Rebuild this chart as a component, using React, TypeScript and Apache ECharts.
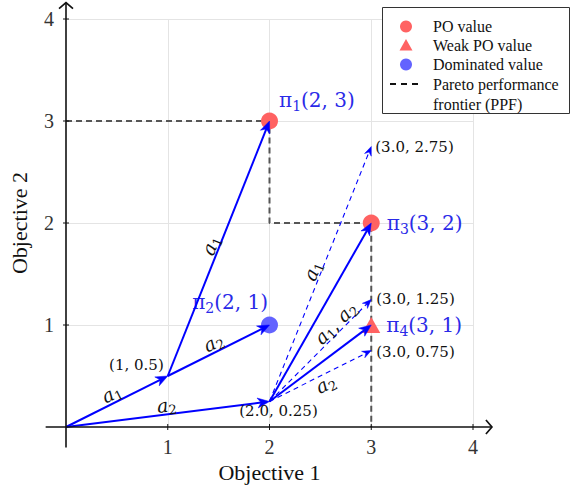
import React, { useEffect, useRef } from 'react';
import * as echarts from 'echarts';

// ---------------- data ----------------
const xTicks = [1, 2, 3, 4];
const yTicks = [1, 2, 3, 4];

const poValues = [[2, 3], [3, 2]];
const poSubs = ['1', '3'];
const poCoords = ['(2, 3)', '(3, 2)'];

const weakPoValues = [[3, 1]];
const weakPoSubs = ['4'];
const weakPoCoords = ['(3, 1)'];

const dominatedValues = [[2, 1]];
const dominatedSubs = ['2'];
const dominatedCoords = ['(2, 1)'];

const ppfPath = [[0, 3], [2, 3], [2, 2], [3, 2], [3, 0]];

const solidArrows = [
  [0, 0, 1, 0.5],
  [1, 0.5, 2, 3],
  [1, 0.5, 2, 1],
  [0, 0, 2, 0.25],
  [2, 0.25, 3, 2],
  [2, 0.25, 3, 1],
];
const solidArrowLabels = ['a1', 'a1', 'a2', 'a2', '', ''];

const dashedArrows = [
  [2, 0.25, 3, 2.75],
  [2, 0.25, 3, 1.25],
  [2, 0.25, 3, 0.75],
];
const dashedArrowLabels = ['a1', 'a1, a2', 'a2'];

const statePoints = [[1, 0.5], [2, 0.25], [3, 2.75], [3, 1.25], [3, 0.75]];
const stateLabels = ['(1, 0.5)', '(2.0, 0.25)', '(3.0, 2.75)', '(3.0, 1.25)', '(3.0, 0.75)'];

const legendItems = ['PO value', 'Weak PO value', 'Dominated value', 'Pareto performance', 'frontier (PPF)'];

// ---------------- styles / placement ----------------
const RED = '#ff6262';
const BLUE_PT = '#6363ff';
const ARROW = '#0000ff';
const PI_COLOR = '#2a2ae8';
const MATH_FONT = 'DejaVu Serif';
const TEXT_FONT = 'Liberation Serif';

// [t along arrow, perpendicular offset (+ = left/up side)]
const solidLabelPlace: (number[] | null)[] = [[0.49, 10], [0.5, 9], [0.49, 10], [0.5, 9.5], null, null];
const dashedLabelPlace: (number[] | null)[] = [[0.5, 9], [0.71, 9], [0.51, -9]];

const poLabelPlace = [
  { position: 'right', distance: 1, offset: [0, -21] },
  { position: 'right', distance: 7, offset: [0, 0] },
];
const weakLabelPlace = [{ position: 'right', distance: 6, offset: [0, 0] }];
const domLabelPlace = [{ position: 'left', distance: 0, offset: [7, -23] }];
const stateLabelPlace = [
  { position: 'left', distance: 4, offset: [0, -11] },
  { position: 'bottom', distance: 2, offset: [9, 0] },
  { position: 'right', distance: 4, offset: [0, 0] },
  { position: 'right', distance: 5, offset: [0, -1] },
  { position: 'right', distance: 5, offset: [0, 1] },
];

const piRich = {
  p: { fontFamily: MATH_FONT, fontSize: 20, color: PI_COLOR, lineHeight: 26 },
  s: { fontFamily: MATH_FONT, fontSize: 14, color: PI_COLOR, lineHeight: 14, verticalAlign: 'bottom' },
  q: { fontFamily: MATH_FONT, fontSize: 20, color: PI_COLOR, lineHeight: 26 },
};

const piText = (sub: string, coord: string) => `{p|π}{s|${sub}}{q|${coord}}`;

const actionRich = {
  a: { fontFamily: MATH_FONT, fontStyle: 'italic', fontSize: 19, fill: '#111', lineHeight: 24 },
  s: { fontFamily: MATH_FONT, fontSize: 13, fill: '#111', lineHeight: 13, verticalAlign: 'bottom' },
  n: { fontFamily: MATH_FONT, fontSize: 19, fill: '#111', lineHeight: 24 },
};
const actionText = (t: string) =>
  t
    .split(', ')
    .map((p) => `{a|a}{s|${p.slice(1)}}`)
    .join('{n|, }');

function arrowRenderer(labels: string[], places: (number[] | null)[], dashed: boolean) {
  return (params: any, api: any) => {
    const i = params.dataIndex;
    const p1 = api.coord([api.value(0), api.value(1)]);
    const p2 = api.coord([api.value(2), api.value(3)]);
    const dx = p2[0] - p1[0];
    const dy = p2[1] - p1[1];
    const len = Math.hypot(dx, dy);
    const ux = dx / len;
    const uy = dy / len;
    const nx = uy;
    const ny = -ux;
    const L = dashed ? 9 : 12;
    const W = dashed ? 3.6 : 5;
    const N = dashed ? 3 : 3.5;
    const bx = p2[0] - ux * L;
    const by = p2[1] - uy * L;
    const mx = p2[0] - ux * (L - N);
    const my = p2[1] - uy * (L - N);
    const children: any[] = [
      {
        type: 'line',
        shape: { x1: p1[0], y1: p1[1], x2: mx, y2: my },
        style: {
          stroke: ARROW,
          lineWidth: dashed ? 1.1 : 2,
          lineDash: dashed ? [5, 4] : null,
          fill: null,
        },
      },
      {
        type: 'polygon',
        shape: {
          points: [
            [p2[0], p2[1]],
            [bx + nx * W, by + ny * W],
            [mx, my],
            [bx - nx * W, by - ny * W],
          ],
        },
        style: { fill: ARROW, stroke: ARROW, lineWidth: 0.5 },
      },
    ];
    const label = labels[i];
    const place = places[i];
    if (label && place) {
      const cx = p1[0] + ux * len * place[0] + nx * place[1];
      const cy = p1[1] + uy * len * place[0] + ny * place[1];
      children.push({
        type: 'text',
        x: cx,
        y: cy,
        rotation: Math.atan2(-dy, dx),
        style: {
          text: actionText(label),
          rich: actionRich,
          align: 'center',
          verticalAlign: 'middle',
        },
      });
    }
    return { type: 'group', children };
  };
}

const axisCommon = {
  type: 'value',
  min: 0,
  max: 4,
  interval: 1,
  axisLine: { show: false },
  axisTick: { show: false },
  splitLine: { show: true, showMinLine: false, lineStyle: { color: '#e4e4e4', width: 1 } },
  nameTextStyle: { fontFamily: TEXT_FONT, fontSize: 22, color: '#111' },
  nameLocation: 'middle',
};

export default function App() {
  const ref = useRef<HTMLDivElement>(null);
  useEffect(() => {
    if (!ref.current) return;
    const chart = echarts.init(ref.current, null, { renderer: 'svg' });
    const option: any = {
      animation: false,
      backgroundColor: '#ffffff',
      grid: { left: 65, top: 19, width: 408, height: 408 },
      xAxis: {
        ...axisCommon,
        name: 'Objective 1',
        nameGap: 29,
        axisLabel: {
          formatter: (v: number) => (v === 0 ? '' : String(v)),
          fontFamily: TEXT_FONT,
          fontSize: 20,
          color: '#333',
          margin: 10,
        },
      },
      yAxis: {
        ...axisCommon,
        name: 'Objective 2',
        nameGap: 36,
        axisLabel: {
          formatter: (v: number) => (v === 0 ? '' : String(v)),
          fontFamily: TEXT_FONT,
          fontSize: 20,
          color: '#333',
          margin: 12,
        },
      },
      series: [
        {
          type: 'line',
          data: ppfPath,
          symbol: 'none',
          silent: true,
          lineStyle: { color: '#555', width: 2, type: [6, 4] },
          z: 1,
        },
        {
          type: 'scatter',
          data: poValues.map((v, i) => ({
            value: v,
            label: {
              show: true,
              ...poLabelPlace[i],
              formatter: piText(poSubs[i], poCoords[i]),
              rich: piRich,
            },
          })),
          symbol: 'circle',
          symbolSize: 17,
          itemStyle: { color: RED, opacity: 1 },
          z: 2,
        },
        {
          type: 'scatter',
          data: weakPoValues.map((v, i) => ({
            value: v,
            label: {
              show: true,
              ...weakLabelPlace[i],
              formatter: piText(weakPoSubs[i], weakPoCoords[i]),
              rich: piRich,
            },
          })),
          symbol: 'triangle',
          symbolSize: [18, 16],
          itemStyle: { color: RED, opacity: 1 },
          z: 2,
        },
        {
          type: 'scatter',
          data: dominatedValues.map((v, i) => ({
            value: v,
            label: {
              show: true,
              ...domLabelPlace[i],
              formatter: piText(dominatedSubs[i], dominatedCoords[i]),
              rich: piRich,
            },
          })),
          symbol: 'circle',
          symbolSize: 17,
          itemStyle: { color: BLUE_PT, opacity: 1 },
          z: 2,
        },
        {
          type: 'custom',
          renderItem: arrowRenderer(dashedArrowLabels, dashedLabelPlace, true),
          data: dashedArrows,
          encode: { x: [0, 2], y: [1, 3] },
          z: 3,
        },
        {
          type: 'custom',
          renderItem: arrowRenderer(solidArrowLabels, solidLabelPlace, false),
          data: solidArrows,
          encode: { x: [0, 2], y: [1, 3] },
          z: 3,
        },
        {
          type: 'scatter',
          data: statePoints.map((v, i) => ({
            value: v,
            label: {
              show: true,
              ...stateLabelPlace[i],
              formatter: stateLabels[i],
              fontFamily: MATH_FONT,
              fontSize: 15,
              color: '#111',
              opacity: 1,
            },
          })),
          symbolSize: 0,
          silent: true,
          itemStyle: { opacity: 1 },
          z: 4,
        },
      ],
    };
    chart.setOption(option);

    const px = (x: number, y: number) => chart.convertToPixel({ gridIndex: 0 }, [x, y]) as number[];
    const o = px(0, 0);
    const xEnd = px(4.186, 0);
    const xStart = px(-0.2, 0);
    const yEnd = px(0, 4.16);
    const yStart = px(0, -0.2);
    const axisStroke = { stroke: '#111', lineWidth: 1.6, fill: null };
    const g: any[] = [
      { type: 'line', shape: { x1: xStart[0], y1: o[1], x2: xEnd[0], y2: o[1] }, style: axisStroke, z: 5 },
      { type: 'line', shape: { x1: o[0], y1: yStart[1], x2: o[0], y2: yEnd[1] }, style: axisStroke, z: 5 },
      {
        type: 'polyline',
        shape: { points: [[xEnd[0] - 6, o[1] - 7], [xEnd[0], o[1]], [xEnd[0] - 6, o[1] + 7]] },
        style: { ...axisStroke, lineWidth: 1.7 },
        z: 5,
      },
      {
        type: 'polyline',
        shape: { points: [[o[0] - 7, yEnd[1] + 6], [o[0], yEnd[1]], [o[0] + 7, yEnd[1] + 6]] },
        style: { ...axisStroke, lineWidth: 1.7 },
        z: 5,
      },
    ];
    xTicks.forEach((v) => {
      const p = px(v, 0);
      g.push({ type: 'line', shape: { x1: p[0], y1: p[1] - 3, x2: p[0], y2: p[1] + 3 }, style: { stroke: '#111', lineWidth: 1 }, z: 5 });
    });
    yTicks.forEach((v) => {
      const p = px(0, v);
      g.push({ type: 'line', shape: { x1: p[0] - 3, y1: p[1], x2: p[0] + 3, y2: p[1] }, style: { stroke: '#111', lineWidth: 1 }, z: 5 });
    });

    // legend box
    const lx = 382.5;
    const ly = 7.5;
    const rowY = [26.5, 45.5, 64.5, 84, 104];
    const mk = 406;
    const legendChildren: any[] = [
      { type: 'rect', shape: { x: lx, y: ly, width: 187, height: 106 }, style: { fill: '#fff', stroke: '#333', lineWidth: 1 } },
      { type: 'circle', shape: { cx: mk, cy: rowY[0], r: 6 }, style: { fill: RED } },
      {
        type: 'polygon',
        shape: { points: [[mk, rowY[1] - 6.5], [mk + 6.5, rowY[1] + 5], [mk - 6.5, rowY[1] + 5]] },
        style: { fill: RED },
      },
      { type: 'circle', shape: { cx: mk, cy: rowY[2], r: 6 }, style: { fill: BLUE_PT } },
      {
        type: 'line',
        shape: { x1: 390, y1: rowY[3], x2: 423, y2: rowY[3] },
        style: { stroke: '#111', lineWidth: 2, lineDash: [6, 5] },
      },
    ];
    legendItems.forEach((t, i) => {
      legendChildren.push({
        type: 'text',
        x: 433,
        y: rowY[i],
        style: {
          text: t,
          fontFamily: TEXT_FONT,
          fontSize: 16,
          fill: '#111',
          align: 'left',
          verticalAlign: 'middle',
        },
      });
    });
    g.push({ type: 'group', children: legendChildren, z: 100 });

    chart.setOption({ graphic: g });
    return () => chart.dispose();
  }, []);
  return <div ref={ref} style={{ position: 'fixed', left: 0, top: 0, width: 573, height: 490, background: '#fff' }} />;
}
